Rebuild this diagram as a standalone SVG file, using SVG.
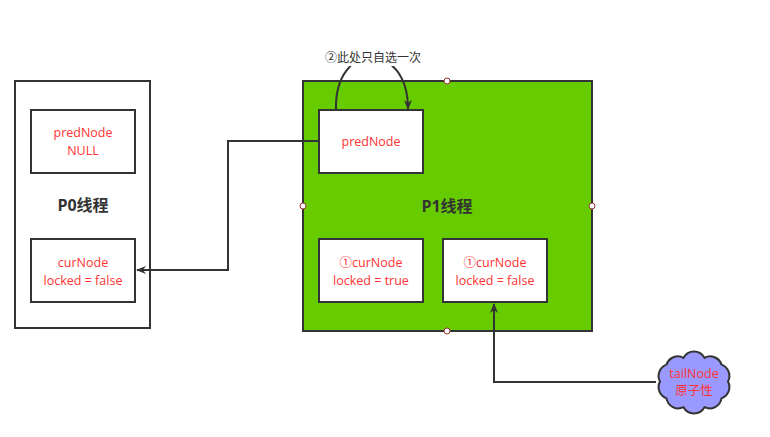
<svg xmlns="http://www.w3.org/2000/svg" width="770" height="437" viewBox="0 0 770 437">
<style>
.box{fill:#ffffff;stroke:#333333;stroke-width:2}
.t{font-family:"Open Sans","Noto Sans CJK SC",sans-serif;font-size:12.5px;fill:#FF3333;text-anchor:middle}
.title{font-family:"Open Sans","Noto Sans CJK SC",sans-serif;font-size:16px;font-weight:bold;fill:#333333;text-anchor:middle}
.edge{fill:none;stroke:#333333;stroke-width:2}
.pt{fill:#ffffff;stroke:#A03030;stroke-width:1}
</style>
<defs>
<marker id="arr" viewBox="0 0 10 8" refX="9" refY="4" markerWidth="10" markerHeight="8" markerUnits="userSpaceOnUse" orient="auto">
<path d="M0,0 L10,4 L0,8 L3,4 Z" fill="#333333"/>
</marker>
</defs>
<rect width="770" height="437" fill="#ffffff"/>
<g id="P0">
<rect x="15" y="81" width="135" height="247" class="box"/>
<text x="83" y="211" class="title">P0线程</text>
</g>
<g id="P0-pred">
<rect x="31" y="110" width="104" height="63" class="box"/>
<text x="83" y="137" class="t">predNode</text>
<text x="83" y="155" class="t">NULL</text>
</g>
<g id="P0-cur">
<rect x="31" y="239" width="104" height="63" class="box"/>
<text x="83" y="267" class="t">curNode</text>
<text x="83" y="285" class="t">locked = false</text>
</g>
<g id="P1">
<rect x="303" y="81" width="289" height="250" fill="#66CC00" stroke="#333333" stroke-width="2"/>
<text x="447" y="212" class="title">P1线程</text>
<circle cx="447" cy="81" r="3" class="pt"/>
<circle cx="303" cy="206" r="3" class="pt"/>
<circle cx="592" cy="206" r="3" class="pt"/>
<circle cx="447" cy="331" r="3" class="pt"/>
</g>
<g id="P1-pred">
<rect x="319" y="110" width="104" height="63" class="box"/>
<text x="371" y="146" class="t">predNode</text>
</g>
<g id="P1-cur-true">
<rect x="319" y="239" width="104" height="63" class="box"/>
<text x="371" y="267" class="t">①curNode</text>
<text x="371" y="285" class="t">locked = true</text>
</g>
<g id="P1-cur-false">
<rect x="443" y="239" width="104" height="63" class="box"/>
<text x="495" y="267" class="t">①curNode</text>
<text x="495" y="285" class="t">locked = false</text>
</g>
<g id="tailNode">
<path d="M728,381.5 A12,12 0 0 1 721.5,398.4 A12,12 0 0 1 704.5,407.2 A12,12 0 0 1 683.5,407.2 A12,12 0 0 1 666.5,398.4 A12,12 0 0 1 660,381.5 A12,12 0 0 1 666.5,364.6 A12,12 0 0 1 683.5,357.8 A12,12 0 0 1 704.5,357.8 A12,12 0 0 1 721.5,364.6 A12,12 0 0 1 728,381.5 Z" fill="#9999FF" stroke="#333333" stroke-width="2"/>
<text x="694" y="378" class="t">tailNode</text>
<text x="694" y="395" class="t">原子性</text>
</g>
<g id="connectors">
<path d="M336,110 C334,40 408,40 408,109" class="edge" marker-end="url(#arr)"/>
<rect x="325" y="49" width="97" height="17" fill="#ffffff"/>
<text x="373" y="62" font-family="'Open Sans','Noto Sans CJK SC',sans-serif" font-size="12" fill="#333333" text-anchor="middle">②此处只自选一次</text>
<path d="M319,141 L228,141 L228,270 L137,270" class="edge" marker-end="url(#arr)"/>
<path d="M656,382 L494,382 L494,304" class="edge" marker-end="url(#arr)"/>
</g>
</svg>
